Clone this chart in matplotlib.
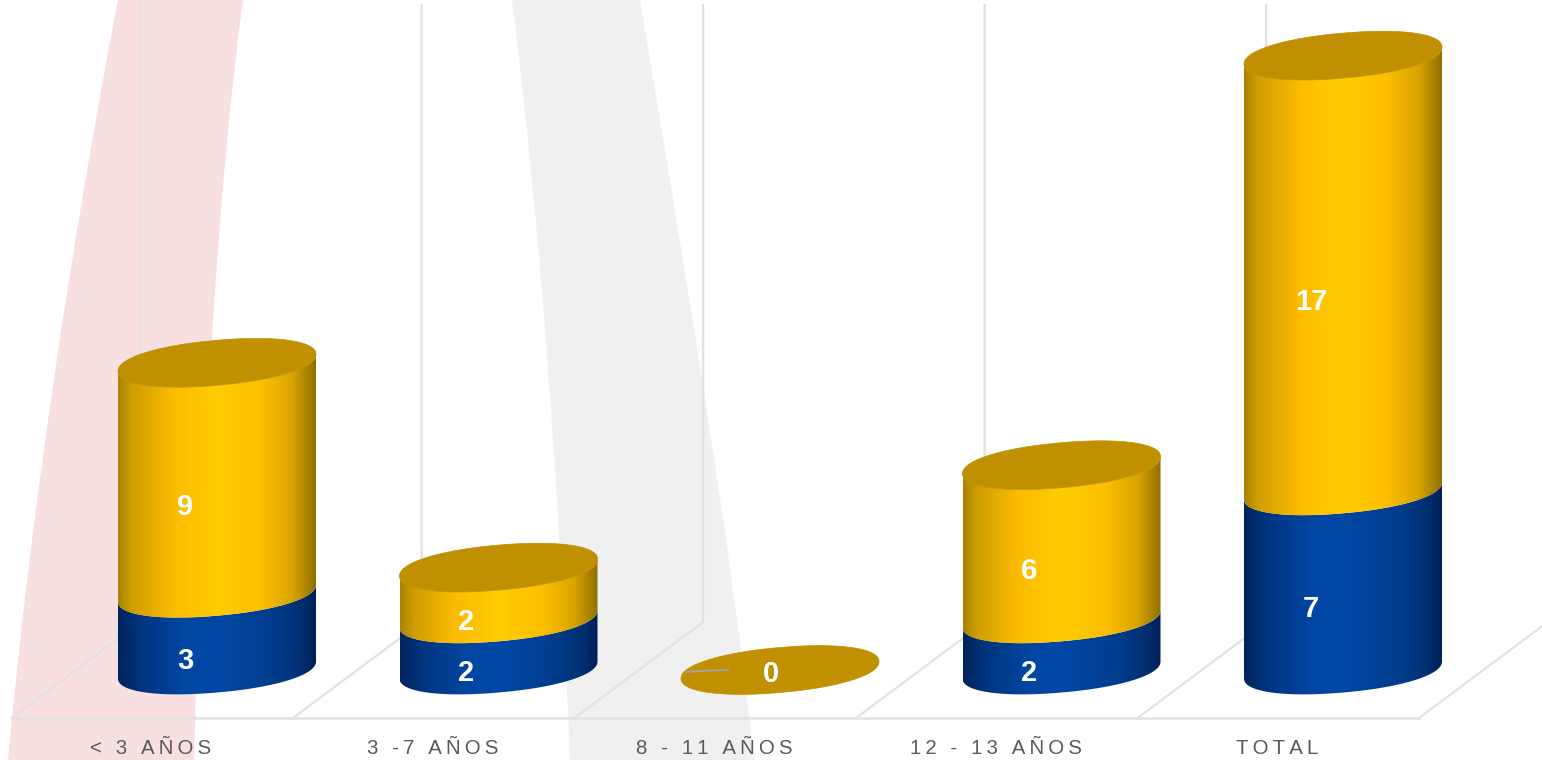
import numpy as np
import matplotlib
matplotlib.use('Agg')
import matplotlib.pyplot as plt
from matplotlib.colors import LinearSegmentedColormap
from matplotlib.patches import PathPatch, Polygon
from matplotlib.path import Path

categories = ['< 3 AÑOS', '3 -7 AÑOS', '8 - 11 AÑOS', '12 - 13 AÑOS', 'TOTAL']
blue_values = [3, 2, 0, 2, 7]
gold_values = [9, 2, 0, 6, 17]

W, H = 1542, 760
PX_X = 281.5   # pixels per category
PX_Y = 25.6    # pixels per unit
BAR_HALF = 99 / PX_X
ELL_B = 22.5 / PX_Y
ELL_S = 8.5 / PX_Y
ROUND = 0.93   # below 1 makes the ellipse fuller at the ends

plt.rcParams['font.family'] = ['Liberation Sans', 'DejaVu Sans']

gold_cmap = LinearSegmentedColormap.from_list('gold', [
    (0.0, '#a98400'), (0.07, '#cf9e00'), (0.28, '#fcbc00'), (0.5, '#ffcc00'),
    (0.72, '#fdbf00'), (0.88, '#dba500'), (1.0, '#8f7000')])
blue_cmap = LinearSegmentedColormap.from_list('blue', [
    (0.0, '#00245c'), (0.12, '#003580'), (0.35, '#0047a3'), (0.55, '#0046a2'),
    (0.8, '#003b8a'), (0.93, '#002f70'), (1.0, '#002058')])

fig = plt.figure(figsize=(W / 100, H / 100), dpi=100, facecolor='white')
ax = fig.add_axes([0, 0, 1, 1])
ax.set_xlim(-217 / PX_X, (W - 217) / PX_X)
ax.set_ylim(-(H - 670) / PX_Y, 670 / PX_Y)
ax.axis('off')


def band(left, right, color):
    # curved background ribbon, given in figure pixels
    verts = left + right[::-1] + [left[0]]
    codes = [Path.MOVETO, Path.CURVE4, Path.CURVE4, Path.CURVE4, Path.LINETO,
             Path.CURVE4, Path.CURVE4, Path.CURVE4, Path.CLOSEPOLY]
    verts = [(x / W, 1 - y / H) for x, y in verts]
    ax.add_patch(PathPatch(Path(verts, codes), fc=color, ec='none',
                           transform=ax.transAxes, zorder=0))


band([(118, 0), (70, 250), (30, 520), (8, 760)],
     [(243, 0), (220, 170), (203, 420), (194, 760)], '#f8e0e1')
band([(512, 0), (540, 220), (560, 500), (570, 760)],
     [(640, 0), (690, 300), (730, 540), (754, 760)], '#f0f0f0')

# walls and floor
FLOOR = -48 / PX_Y
BACK = 48 / PX_Y
TOP = 665 / PX_Y
GRID = '#e2e2e2'
for i in range(len(categories) + 1):
    ax.plot([i - 0.73, i - 0.273, i - 0.273], [FLOOR, BACK, TOP], color=GRID,
            lw=1.6, zorder=1, solid_joinstyle='miter', clip_on=True)
ax.plot([-0.73, len(categories) - 0.73], [FLOOR, FLOOR], color=GRID, lw=1.8, zorder=1)


def rim(x, y, t):
    # sheared, slightly squared ellipse for a cylinder slice centred on (x, y)
    c = np.sign(np.cos(t)) * np.abs(np.cos(t)) ** ROUND
    s = np.sign(np.sin(t)) * np.abs(np.sin(t)) ** ROUND
    return x + BAR_HALF * c, y + ELL_S * c + ELL_B * s


def cylinder(x, low, high, cmap, z):
    t = np.linspace(np.pi, 2 * np.pi, 80)
    x1, y1 = rim(x, low, t)
    x2, y2 = rim(x, high, t)
    pts = np.vstack([np.column_stack([x1, y1]),
                     np.column_stack([x2, y2])[::-1]])
    shape = Polygon(pts, closed=True, fc='none', ec='none', transform=ax.transData)
    ax.add_patch(shape)
    grad = np.linspace(0, 1, 256).reshape(1, -1)
    img = ax.imshow(grad, cmap=cmap, aspect='auto', zorder=z,
                    extent=[x - BAR_HALF, x + BAR_HALF, low - 2, high + 2])
    img.set_clip_path(shape)


def value_label(x, y, val):
    ax.text(x, y, str(val), color='white', fontsize=21, fontweight='bold',
            ha='center', va='center', zorder=10)


for i, (b, g) in enumerate(zip(blue_values, gold_values)):
    total = b + g
    if b > 0:
        cylinder(i, 0, b, blue_cmap, 3)
        value_label(i - 32 / PX_X, b / 2 - 29 / PX_Y, b)
    if g > 0:
        cylinder(i, b, total, gold_cmap, 4)
        value_label(i - 32 / PX_X, b + g / 2 - 29 / PX_Y, g)
    t = np.linspace(0, 2 * np.pi, 160)
    ex, ey = rim(i, total, t)
    ax.fill(ex, ey, color='#c09000', lw=0.5, zorder=5)
    if total == 0:
        # the zero bar only gets a leader line and one label
        ax.plot([i - 93 / PX_X, i - 72 / PX_X, i - 52 / PX_X],
                [-2 / PX_Y, -0.5 / PX_Y, 0], color='#a3a7ad', lw=1.3, zorder=6)
        value_label(i - 9 / PX_X, -4.5 / PX_Y, b)

for i, name in enumerate(categories):
    # thin spaces stand in for the wide letter spacing of the original
    spaced = '\u2009'.join(name)
    ax.text(i - 66 / PX_X, -79 / PX_Y, spaced, color='#595959', fontsize=14.7,
            ha='center', va='center', zorder=6)

ax.set_xlim(-217 / PX_X, (W - 217) / PX_X)
ax.set_ylim(-(H - 670) / PX_Y, 670 / PX_Y)
fig.savefig('out.png', dpi=100)
